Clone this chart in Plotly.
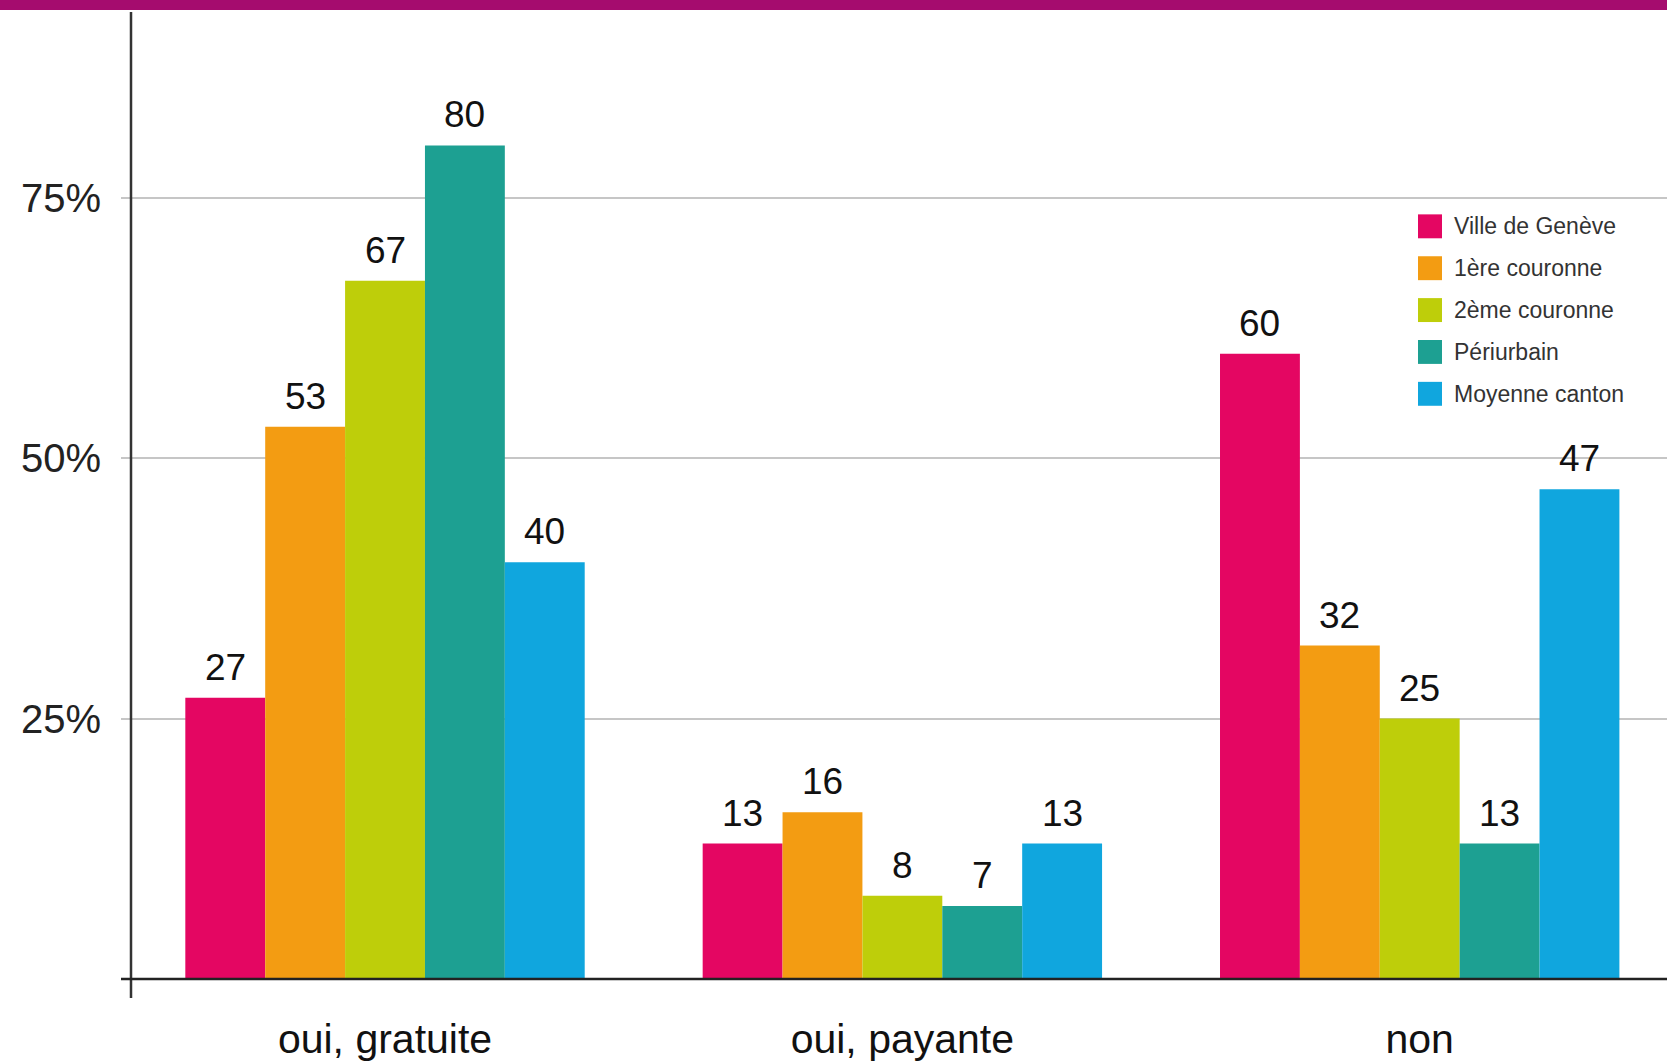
import plotly.graph_objects as go

categories = ["oui, gratuite", "oui, payante", "non"]
series_names = ["Ville de Genève", "1ère couronne", "2ème couronne", "Périurbain", "Moyenne canton"]
series_colors = ["#E40662", "#F39C12", "#BECE0A", "#1DA092", "#10A6DE"]
ville_geneve = [27, 13, 60]
premiere_couronne = [53, 16, 32]
deuxieme_couronne = [67, 8, 25]
periurbain = [80, 7, 13]
moyenne_canton = [40, 13, 47]
tick_values = [25, 50, 75]
tick_labels = ["25%", "50%", "75%"]

series_values = [ville_geneve, premiere_couronne, deuxieme_couronne, periurbain, moyenne_canton]

W, H = 1667, 1062
ML, MR, MT, MB = 131, 0, 11, 80
PW, PH = W - ML - MR, H - MT - MB
BARGAP = 0.228
FONT = "Liberation Sans, Arial, sans-serif"

def px_x(p):
    return (p - ML) / PW

def px_y(p):
    return (H - MB - p) / PH

fig = go.Figure()
for name, color, vals in zip(series_names, series_colors, series_values):
    fig.add_trace(go.Bar(x=categories, y=vals, name=name, marker=dict(color=color, line=dict(width=0)),
                         showlegend=False))

annotations = []
n = len(series_names)
wf = (1 - BARGAP) / n
for i, vals in enumerate(series_values):
    off = -(1 - BARGAP) / 2 + (i + 0.5) * wf
    for j, v in enumerate(vals):
        annotations.append(dict(x=j + off, y=v, xref="x", yref="y", text=str(v), showarrow=False,
                                yanchor="bottom", yshift=8,
                                font=dict(family=FONT, size=37, color="#111111")))

# manual legend
leg_y = [227, 269, 311, 353, 395]
shapes = []
for name, color, cy in zip(series_names, series_colors, leg_y):
    shapes.append(dict(type="rect", xref="paper", yref="paper",
                       x0=px_x(1418), x1=px_x(1442), y0=px_y(cy + 12), y1=px_y(cy - 12),
                       fillcolor=color, line=dict(width=0), layer="above"))
    annotations.append(dict(x=px_x(1452), y=px_y(cy), xref="paper", yref="paper", text=name,
                            showarrow=False, xanchor="left", yanchor="middle",
                            font=dict(family=FONT, size=23, color="#333333")))

# top band
shapes.append(dict(type="rect", xref="paper", yref="paper", x0=-ML / PW, x1=1.0,
                   y0=px_y(10), y1=px_y(0), fillcolor="#A50C6E", line=dict(width=0), layer="above"))
# axis lines
shapes.append(dict(type="line", xref="paper", yref="paper", x0=0, x1=0, y0=px_y(1001), y1=px_y(12),
                   line=dict(color="#333333", width=2.5), layer="above"))
shapes.append(dict(type="line", xref="paper", yref="paper", x0=px_x(121), x1=1.0, y0=0, y1=0,
                   line=dict(color="#222222", width=2.5), layer="above"))

fig.update_layout(
    width=W, height=H,
    margin=dict(l=ML, r=MR, t=MT, b=MB, pad=0),
    paper_bgcolor="white", plot_bgcolor="white",
    barmode="group", bargap=BARGAP, bargroupgap=0,
    showlegend=False,
    font=dict(family=FONT, color="#222222"),
    annotations=annotations, shapes=shapes,
    xaxis=dict(range=[-0.491, 2.478], showgrid=False, showline=False, ticks="",
               tickfont=dict(size=41, color="#111111"), ticklabelstandoff=32, fixedrange=True),
    yaxis=dict(range=[0, 92.9], tickvals=tick_values, ticktext=tick_labels, showgrid=True,
               gridcolor="#C6C6C6", gridwidth=2, zeroline=False, showline=False,
               ticks="outside", ticklen=9, tickwidth=2, tickcolor="#C6C6C6",
               ticklabelstandoff=12, tickfont=dict(size=40, color="#222222"), fixedrange=True),
)

fig.write_html("out.html", config={"displayModeBar": False},
               post_script="document.body.style.margin='0';document.body.style.padding='0';")
